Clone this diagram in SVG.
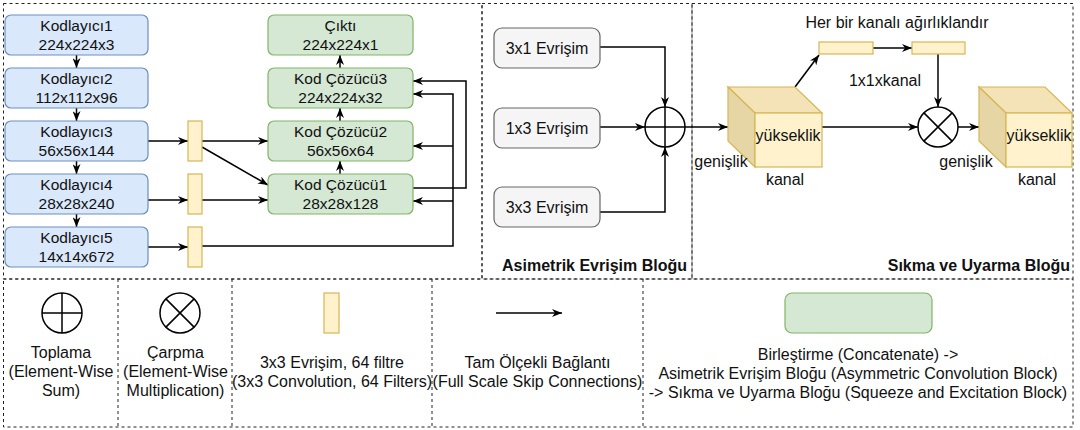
<svg xmlns="http://www.w3.org/2000/svg" width="1080" height="430" viewBox="0 0 1080 430">
<style>
text{font-family:"Liberation Sans",Arial,Helvetica,sans-serif;font-size:16px;fill:#111;text-anchor:middle}
.bx{font-size:15.5px}
.b{font-weight:bold;text-anchor:end}
.frame{fill:none;stroke:#222;stroke-width:1;stroke-dasharray:3 3}
.enc{fill:#dae8fc;stroke:#6c8ebf;stroke-width:1.2}
.dec{fill:#d5e8d4;stroke:#82b366;stroke-width:1.2}
.yel{fill:#fff2cc;stroke:#d6b656;stroke-width:1.2}
.gry{fill:#f5f5f5;stroke:#666;stroke-width:1.2}
.op{fill:#fff;stroke:#000;stroke-width:1.5}
.c{fill:none;stroke:#000;stroke-width:1.5}
.ca{fill:none;stroke:#000;stroke-width:1.5;marker-end:url(#ah)}
</style>
<defs>
<marker id="ah" viewBox="0 0 10 8" refX="10" refY="4" markerWidth="10" markerHeight="8" orient="auto" markerUnits="userSpaceOnUse">
<path d="M0,0 L10,4 L0,8 L3,4 z" fill="#000"/>
</marker>
</defs>
<rect width="1080" height="430" fill="#fff"/>

<g id="frames">
<rect class="frame" x="3.5" y="3.5" width="478.5" height="275.5"/>
<rect class="frame" x="482" y="3.5" width="210" height="275.5"/>
<rect class="frame" x="692" y="3.5" width="381" height="275.5"/>
<rect class="frame" x="3.5" y="279" width="1069.5" height="148"/>
<line class="frame" x1="118" y1="279" x2="118" y2="427"/>
<line class="frame" x1="232" y1="279" x2="232" y2="427"/>
<line class="frame" x1="432" y1="279" x2="432" y2="427"/>
<line class="frame" x1="643" y1="279" x2="643" y2="427"/>
</g>

<g id="connectors">
<path class="ca" d="M76.5,55 V68"/>
<path class="ca" d="M76.5,108 V121"/>
<path class="ca" d="M76.5,161 V174"/>
<path class="ca" d="M76.5,214 V227"/>
<path class="ca" d="M148,141 H188"/>
<path class="ca" d="M148,200 H188"/>
<path class="ca" d="M148,247 H188"/>
<path class="ca" d="M202,141 H268"/>
<path class="ca" d="M202,147 L268,185"/>
<path class="ca" d="M202,200 H268"/>
<path class="ca" d="M202,246 H453 V94 H413"/>
<path class="ca" d="M453,146 H413"/>
<path class="ca" d="M453,201 H413"/>
<path class="ca" d="M413,188 H466 V81 H413"/>
<path class="ca" d="M340,174 V161"/>
<path class="ca" d="M340,121 V108"/>
<path class="ca" d="M340,68 V55"/>
<path class="ca" d="M600,47 H665 V107"/>
<path class="ca" d="M600,127 H645"/>
<path class="ca" d="M600,212 H665 V147"/>
<path class="ca" d="M685,127 H728"/>
<path class="ca" d="M795,87 L819,55"/>
<path class="ca" d="M873,48 H912"/>
<path class="ca" d="M938,54 V107"/>
<path class="ca" d="M822,127 H918"/>
<path class="ca" d="M958,127 H979"/>
</g>

<g id="enc1"><rect class="enc" x="5" y="15" width="143" height="40" rx="6"/><text class="bx" x="76.5" y="31">Kodlayıcı1</text><text class="bx" x="76.5" y="49.5">224x224x3</text></g>
<g id="enc2"><rect class="enc" x="5" y="68" width="143" height="40" rx="6"/><text class="bx" x="76.5" y="84">Kodlayıcı2</text><text class="bx" x="76.5" y="102.5">112x112x96</text></g>
<g id="enc3"><rect class="enc" x="5" y="121" width="143" height="40" rx="6"/><text class="bx" x="76.5" y="137">Kodlayıcı3</text><text class="bx" x="76.5" y="155.5">56x56x144</text></g>
<g id="enc4"><rect class="enc" x="5" y="174" width="143" height="40" rx="6"/><text class="bx" x="76.5" y="190">Kodlayıcı4</text><text class="bx" x="76.5" y="208.5">28x28x240</text></g>
<g id="enc5"><rect class="enc" x="5" y="227" width="143" height="40" rx="6"/><text class="bx" x="76.5" y="243">Kodlayıcı5</text><text class="bx" x="76.5" y="261.5">14x14x672</text></g>

<g id="conv1"><rect class="yel" x="188" y="121" width="14" height="40"/></g>
<g id="conv2"><rect class="yel" x="188" y="174" width="14" height="40"/></g>
<g id="conv3"><rect class="yel" x="188" y="227" width="14" height="40"/></g>

<g id="out"><rect class="dec" x="268" y="15" width="145" height="40" rx="6"/><text class="bx" x="340.5" y="31">Çıktı</text><text class="bx" x="340.5" y="49.5">224x224x1</text></g>
<g id="dec3"><rect class="dec" x="268" y="68" width="145" height="40" rx="6"/><text class="bx" x="340.5" y="84">Kod Çözücü3</text><text class="bx" x="340.5" y="102.5">224x224x32</text></g>
<g id="dec2"><rect class="dec" x="268" y="121" width="145" height="40" rx="6"/><text class="bx" x="340.5" y="137">Kod Çözücü2</text><text class="bx" x="340.5" y="155.5">56x56x64</text></g>
<g id="dec1"><rect class="dec" x="268" y="174" width="145" height="40" rx="6"/><text class="bx" x="340.5" y="190">Kod Çözücü1</text><text class="bx" x="340.5" y="208.5">28x28x128</text></g>

<g id="c31"><rect class="gry" x="494" y="28" width="106" height="40" rx="8"/><text x="547" y="53.5">3x1 Evrişim</text></g>
<g id="c13"><rect class="gry" x="494" y="108" width="106" height="40" rx="8"/><text x="547" y="133.5">1x3 Evrişim</text></g>
<g id="c33"><rect class="gry" x="494" y="187" width="106" height="40" rx="8"/><text x="547" y="212.5">3x3 Evrişim</text></g>
<g id="sum"><circle class="op" cx="665" cy="127" r="20"/><path class="c" d="M645,127 H685 M665,107 V147"/></g>
<text class="b" x="687" y="271">Asimetrik Evrişim Bloğu</text>

<g id="cube1">
<polygon points="728,87 795,87 822,113 755,113" fill="#f3e3b6" stroke="#d6b656" stroke-width="1.2"/>
<polygon points="728,87 755,113 755,167 728,141" fill="#e6d6a6" stroke="#d6b656" stroke-width="1.2"/>
<rect x="755" y="113" width="67" height="54" fill="#fff2cc" stroke="#d6b656" stroke-width="1.2"/>
<text x="788" y="141">yükseklik</text>
<text x="721" y="167">genişlik</text>
<text x="785" y="185">kanal</text>
</g>
<g id="fc1"><rect class="yel" x="819" y="42" width="54" height="12"/></g>
<g id="fc2"><rect class="yel" x="912" y="42" width="53" height="12"/></g>
<text x="897" y="28">Her bir kanalı ağırlıklandır</text>
<text x="885" y="86">1x1xkanal</text>
<g id="mul"><circle class="op" cx="938" cy="127" r="20"/><path class="c" d="M923.9,112.9 L952.1,141.1 M952.1,112.9 L923.9,141.1"/></g>
<g id="cube2">
<polygon points="979,87 1045,87 1072,113 1006,113" fill="#f3e3b6" stroke="#d6b656" stroke-width="1.2"/>
<polygon points="979,87 1006,113 1006,167 979,141" fill="#e6d6a6" stroke="#d6b656" stroke-width="1.2"/>
<rect x="1006" y="113" width="66" height="54" fill="#fff2cc" stroke="#d6b656" stroke-width="1.2"/>
<text x="1039" y="141">yükseklik</text>
<text x="966" y="167">genişlik</text>
<text x="1037" y="185">kanal</text>
</g>
<text class="b" x="1070" y="271">Sıkma ve Uyarma Bloğu</text>

<g id="legend-sum"><circle class="op" cx="62" cy="313" r="20"/><path class="c" d="M42,313 H82 M62,293 V333"/>
<text x="61" y="358">Toplama</text><text x="61" y="377">(Element-Wise</text><text x="61" y="396">Sum)</text></g>
<g id="legend-mul"><circle class="op" cx="180" cy="313" r="20"/><path class="c" d="M165.9,298.9 L194.1,327.1 M194.1,298.9 L165.9,327.1"/>
<text x="175.5" y="358">Çarpma</text><text x="175.5" y="377">(Element-Wise</text><text x="175.5" y="396">Multiplication)</text></g>
<g id="legend-conv"><rect class="yel" x="324" y="293" width="15" height="40"/>
<text x="332" y="368">3x3 Evrişim, 64 filtre</text><text x="332" y="387">(3x3 Convolution, 64 Filters)</text></g>
<g id="legend-skip"><path class="ca" d="M496,313 H562"/>
<text x="537.5" y="368">Tam Ölçekli Bağlantı</text><text x="537.5" y="387">(Full Scale Skip Connections)</text></g>
<g id="legend-block"><rect class="dec" x="785" y="293" width="147" height="40" rx="7"/>
<text x="858" y="360">Birleştirme (Concatenate) -&gt;</text><text x="858" y="379">Asimetrik Evrişim Bloğu (Asymmetric Convolution Block)</text><text x="858" y="398">-&gt; Sıkma ve Uyarma Bloğu (Squeeze and Excitation Block)</text></g>
</svg>
